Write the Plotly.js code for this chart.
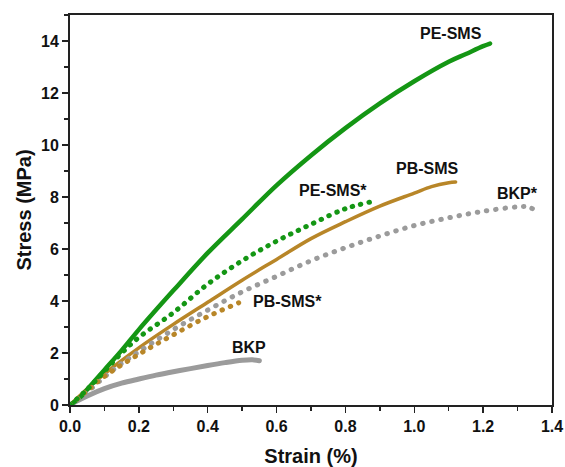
<!DOCTYPE html>
<html>
<head>
<meta charset="utf-8">
<script src="https://cdn.plot.ly/plotly-3.0.1.min.js"></script>
<style>
html,body{margin:0;padding:0;background:#fff;}
#chart{width:565px;height:467px;}
.scatterlayer path.js-line{stroke-linecap:round !important;}
</style>
</head>
<body>
<div id="chart"></div>
<script>
// Solid curves
const peSmsX = [0,0.03,0.05,0.1,0.15,0.2,0.3,0.4,0.5,0.6,0.7,0.8,0.9,1.0,1.1,1.15,1.2,1.22];
const peSmsY = [0,0.3,0.6,1.35,2.1,2.9,4.4,5.85,7.15,8.45,9.6,10.65,11.6,12.45,13.2,13.5,13.8,13.9];
const pbSmsX = [0,0.04,0.1,0.2,0.3,0.4,0.5,0.6,0.7,0.8,0.9,1.0,1.05,1.1,1.12];
const pbSmsY = [0,0.5,1.2,2.2,3.1,3.95,4.8,5.6,6.4,7.05,7.65,8.15,8.4,8.55,8.58];
const bkpX = [0,0.02,0.05,0.1,0.15,0.2,0.25,0.3,0.35,0.4,0.45,0.5,0.53,0.55];
const bkpY = [0,0.15,0.35,0.63,0.84,1.0,1.15,1.28,1.4,1.52,1.63,1.72,1.74,1.7];
// Dotted curves
const peSmsStarX = [0,0.05,0.1,0.15,0.2,0.3,0.4,0.5,0.6,0.7,0.8,0.87];
const peSmsStarY = [0,0.6,1.3,2.0,2.6,3.55,4.65,5.55,6.3,6.95,7.55,7.8];
const pbSmsStarX = [0,0.05,0.1,0.2,0.3,0.4,0.49];
const pbSmsStarY = [0,0.55,1.1,1.95,2.7,3.4,3.93];
const bkpStarX = [0,0.05,0.1,0.15,0.2,0.3,0.4,0.5,0.6,0.7,0.8,0.9,1.0,1.1,1.2,1.3,1.33,1.35];
const bkpStarY = [0,0.5,1.08,1.6,2.05,2.9,3.65,4.35,4.95,5.55,6.05,6.5,6.9,7.2,7.45,7.62,7.62,7.5];

const labels = ["PE-SMS","PB-SMS","BKP","PE-SMS*","PB-SMS*","BKP*"];

const GREEN = "rgb(20,150,20)";
const GOLD = "rgb(184,134,40)";
const GRAY = "rgb(155,155,155)";

const traces = [
  {x:bkpX, y:bkpY, name:labels[2], mode:"lines", line:{color:GRAY, width:5, shape:"spline"}},
  {x:pbSmsX, y:pbSmsY, name:labels[1], mode:"lines", line:{color:GOLD, width:3.5, shape:"spline"}},
  {x:peSmsX, y:peSmsY, name:labels[0], mode:"lines", line:{color:GREEN, width:4.5, shape:"spline"}},
  {x:bkpStarX, y:bkpStarY, name:labels[5], mode:"lines", line:{color:GRAY, width:5, dash:"0.5px,8.8px", shape:"spline"}},
  {x:pbSmsStarX, y:pbSmsStarY, name:labels[4], mode:"lines", line:{color:GOLD, width:5, dash:"0.5px,8.5px", shape:"spline"}},
  {x:peSmsStarX, y:peSmsStarY, name:labels[3], mode:"lines", line:{color:GREEN, width:5, dash:"0.5px,8px", shape:"spline"}}
];

const FONT = "Liberation Sans, Arial, sans-serif";
const annFont = {family:FONT, size:16, color:"#111"};
function ann(text, x, y){
  return {text:"<b>"+text+"</b>", x:x, y:y, xref:"x", yref:"y", showarrow:false, font:annFont};
}

const layout = {
  width:565, height:467,
  margin:{l:70, r:13, t:15, b:62},
  paper_bgcolor:"#fff", plot_bgcolor:"#fff",
  showlegend:false,
  font:{family:FONT, color:"#111"},
  xaxis:{
    range:[0,1.4], dtick:0.2, tick0:0, tickformat:".1f",
    showgrid:false, zeroline:false,
    showline:true, linecolor:"#222", linewidth:2, mirror:true,
    ticks:"outside", ticklen:6, tickwidth:1.5, tickcolor:"#222",
    minor:{dtick:0.1, ticks:"outside", ticklen:4, tickwidth:1.5, tickcolor:"#222", showgrid:false},
    tickfont:{family:FONT, size:16, color:"#111", weight:"bold"},
    title:{text:"<b>Strain (%)</b>", font:{family:FONT, size:20, color:"#111"}, standoff:15}
  },
  yaxis:{
    range:[0,15], dtick:2, tick0:0,
    showgrid:false, zeroline:false,
    showline:true, linecolor:"#222", linewidth:2, mirror:true,
    ticks:"outside", ticklen:6, tickwidth:1.5, tickcolor:"#222",
    minor:{dtick:1, ticks:"outside", ticklen:4, tickwidth:1.5, tickcolor:"#222", showgrid:false},
    tickfont:{family:FONT, size:16, color:"#111", weight:"bold"},
    title:{text:"<b>Stress (MPa)</b>", font:{family:FONT, size:20, color:"#111"}, standoff:4}
  },
  annotations:[
    ann(labels[0], 1.107, 14.3),
    ann(labels[1], 1.038, 9.08),
    ann(labels[3], 0.764, 8.24),
    ann(labels[5], 1.30, 8.15),
    ann(labels[4], 0.633, 4.0),
    ann(labels[2], 0.521, 2.23)
  ]
};

Plotly.newPlot("chart", traces, layout, {displayModeBar:false, staticPlot:true});
</script>
</body>
</html>
